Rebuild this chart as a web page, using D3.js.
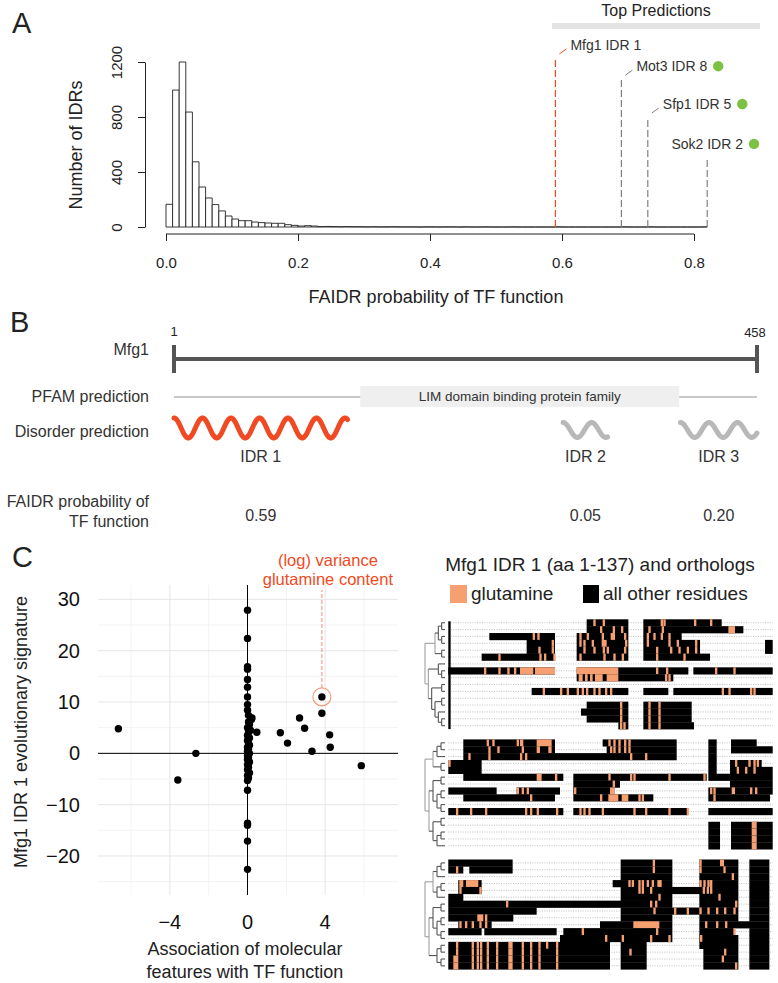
<!DOCTYPE html>
<html><head><meta charset="utf-8">
<script src="https://cdn.jsdelivr.net/npm/d3@7"></script>
<style>
body{margin:0;background:#fff}
svg{display:block}
text{font-family:"Liberation Sans",Arial,Helvetica,sans-serif}
</style>
</head><body>
<svg id="c" width="778" height="983" fill="#222"></svg>
<script>
var histCounts = [
  165, 996, 1200, 836, 474, 291, 211, 163, 117, 80,
  58, 46, 46, 36, 32, 29, 27, 27, 17, 12,
  7, 10, 7, 3, 4, 3, 2, 3, 2, 2,
  1, 2, 1, 1, 2, 1, 1, 1, 0, 1,
  1, 0, 1, 1, 0, 1, 0, 0, 1, 0,
  0, 0, 1, 0, 0, 0, 0, 0, 0, 1,
  0, 0, 0, 0, 0, 0, 0, 0, 0, 1,
  0, 0, 0, 1, 0, 0, 0, 0, 0, 0,
  0, 1];
var histBinWidth = 0.01;
var histXTicks = [0, 0.2, 0.4, 0.6, 0.8];
var histYTicks = [0, 400, 800, 1200];
var topNames = ["Mfg1 IDR 1", "Mot3 IDR 8", "Sfp1 IDR 5", "Sok2 IDR 2"];
var topProbs = [0.59, 0.69, 0.73, 0.82];
var topLineCounts = [1230, 1075, 800, 510];
var topKnownTF = [false, true, true, true];
var topRange = [0.585, 0.9];
var proteinLength = 458;
var pfamName = "LIM domain binding protein family";
var pfamRange = [147, 397];
var idrNames = ["IDR 1", "IDR 2", "IDR 3"];
var idrStart = [1, 306, 398];
var idrEnd = [137, 341, 458];
var idrProb = [0.59, 0.05, 0.20];
</script>
<script>
var assocX = [0,0,0,0,0,0,0,0,0,0.05,
  0.2,0.05,0.1,0,0.15,0.05,0,0.1,0,0.05,
  0.1,0,0.05,0,0.1,0,0.05,0,0.1,0,
  0.05,0,0.1,0,0.05,0,
  0,0,0,0,0,
  -6.65,-2.66,-3.59,0.23,0.48,1.69,2.06,2.68,2.94,3.32,3.83,3.83,4.23,4.26,5.86];
var evoY = [27.9,22.4,16.9,16.4,14.4,12.9,11.0,9.5,8.4,7.4,
  6.6,6.1,5.6,5.0,4.5,4.0,3.5,3.0,2.5,2.0,
  1.6,1.2,0.8,0.4,0.0,-0.4,-0.8,-1.2,-1.7,-2.2,
  -2.7,-3.2,-3.8,-4.3,-4.8,-5.3,
  -7.2,-13.6,-14.0,-17.1,-22.6,
  4.8,0.0,-5.2,6.9,4.1,4.0,2.0,6.9,4.9,0.4,11.0,7.8,3.6,1.2,-2.4];
var scatterXTicks = [-4, 0, 4];
var scatterYTicks = [-20, -10, 0, 10, 20, 30];
var highlightFeature = ["(log) variance", "glutamine content"];
var highlightPoint = [3.83, 11.0];
</script>
<script>
// alignment rows: residue blocks ("start-end") and glutamine columns (single or "start-end")
var alignBlocks1 = [
  "500-625 670-905",
  "500-625 670-970",
  "208-405 470-625 670-785",
  "320-405 470-625 670-840 1035-1058",
  "320-405 470-625 670-840 1035-1058",
  "185-405 470-625 670-870",
  "",
  "85-405 470-805 820-1058",
  "470-760",
  "",
  "335-625 670-745 760-1058",
  "",
  "500-625 670-815",
  "483-625 670-815",
  "500-625 670-815",
  "595-625 670-822"
];
var alignGln1 = [
  "520 548 722 730 822 870",
  "540 578 603 685 725 925-945",
  "338 352 478 500 545 572-585 612 680 700 722 745",
  "395 478 490 515 545-560 615 680 745 770 825",
  "355 395 490 520 548 560 612 708 750 775 800 825",
  "235 358 372 400 478 550 580 605 708 790",
  "",
  "192 235 262 282 300-340 345-405 470-595 708 738 885 940",
  "476-488 495-503 510-518 525-548 560-595 735 745",
  "",
  "368 420 440 470 485 498 520 535 555 570 905 925 990 1000",
  "",
  "600 685 715",
  "600 685 715",
  "600 685 715",
  "600 610 685 715"
];
var alignBlocks2 = [
  "130-405 548-770 865-890 933-1010",
  "130-405 560-770 865-890 933-1058",
  "130-770 865-890",
  "85-185 865-890 930-1025",
  "85-185 865-890 930-1058",
  "130-430 460-860 865-1058",
  "460-600 930-1058",
  "85-230 290-420 460-585 865-1058",
  "130-405 460-700 865-1050",
  "",
  "85-430 460-805 865-1058",
  "",
  "865-900 933-1058",
  "865-900 933-1058",
  "865-900 933-1058",
  "865-900 933-1058"
];
var alignGln2 = [
  "200 217 290 300-310 350-395 565 580 595 612 625",
  "205 232 305 350-360 385-395 570 580 595 612 625",
  "145 205 300 315 630 675",
  "85 945 985 1000 1010",
  "950 975 1000",
  "350-365 405 565 630 640 745 850",
  "578",
  "290 305 320 462 570-585 870 880 935-945 990 1005",
  "330 540 565-595 605-625 655 665 880",
  "",
  "108 150 195 315 330 350 408 478 490 505 545 640 675 745 800",
  "",
  "995-1010",
  "995-1010",
  "995-1010",
  "995-1010"
];
var alignBlocks3 = [
  "85-278 602-757 838-955 988-1048",
  "85-130 148-278 602-757 838-955 988-1048",
  "602-757 838-955 988-1048",
  "115-185 578-757 838-955 988-1048",
  "115-185 602-955 988-1048",
  "85-130 602-757 838-955 988-1048",
  "85-757 838-955 988-1048",
  "85-350 602-955 988-1048",
  "85-280 602-757 838-955 988-1048",
  "115-215 540-757 838-1048",
  "85-185 193-410 430-757 838-945 988-1048",
  "420-757 838-955 988-1048",
  "85-570 602-680 838-955 988-1048",
  "85-570 602-680 850-955 988-1048",
  "85-570 602-680 850-955 988-1048",
  "85-570 602-680 850-955 988-1048"
];
var alignGln3 = [
  "698 838 900-912",
  "108 698 838 910",
  "935",
  "118-130 138-175 625 635 655 665 680 695 712-725 838 850 862 870",
  "118 178 655 665 690 848 860 870",
  "715 895",
  "258 690 705 945",
  "700 762 800 838 862 888 912 940",
  "172-190 195",
  "118 135 155 178 195 640-718 855 888 915",
  "485 708 940",
  "555 605 690 745 840",
  "108-115 155 170 180 200 228 265-278 305 330 355 378 408",
  "108-115 155 170 180 200 228 265-278 305 330 355 408 628 912",
  "100-115 155 170 180 200 228 265-278 305 330 355 408 905",
  "100-115 155 170 180 200 228 265-278 305 330 355 408 945"
];
var alignTree1 = "((((0,1),(2,3)),(4,5)),((6,(7,8)),((9,10),((11,12),(13,(14,15))))))";
var alignTree2 = "((((0,1),2),(3,4)),(((5,6),((7,8),(9,10))),((11,12),((13,14),15))))";
var alignTree3 = "((((0,1),2),((3,4),5)),(((6,7),((8,9),(10,11))),((12,13),(14,15))))";
var alignTitle = "Mfg1 IDR 1 (aa 1-137) and orthologs";
var legendLabels = ["glutamine", "all other residues"];
</script>
<script>
var svg = d3.select("#c");
var RED = "#f04a24", GREEN = "#7cc242", ORANGE = "#f6a072";
svg.append("text").attr("x", 12).attr("y", 33).attr("font-size", 29).text("A");
svg.append("text").attr("x", 10).attr("y", 332).attr("font-size", 29).text("B");
svg.append("text").attr("x", 12).attr("y", 567).attr("font-size", 29).text("C");
</script>
<script>
var xA = d3.scaleLinear().domain([0, 0.8]).range([166, 694]);
var yA = d3.scaleLinear().domain([0, 1200]).range([227, 62]);
var gA = svg.append("g");
gA.selectAll("path.bar").data(histCounts).join("path")
  .attr("d", function(d, i) {
    var x0 = xA(i * histBinWidth), x1 = xA((i + 1) * histBinWidth);
    return "M" + x0 + "," + yA(0) + "V" + yA(d) + "H" + x1 + "V" + yA(0) + "Z";
  })
  .attr("fill", "#fff").attr("stroke", "#222").attr("stroke-width", 0.9);
var axXA = gA.append("g").attr("transform", "translate(0,234)")
  .call(d3.axisBottom(xA).tickValues(histXTicks).tickFormat(d3.format(".1f")).tickSize(7).tickSizeOuter(0).tickPadding(16));
axXA.selectAll("text").attr("font-size", 15).attr("fill", "#222");
axXA.selectAll("path,line").attr("stroke", "#222");
axXA.select(".domain").attr("d", "M" + xA(0) + ",0H" + xA(0.8));
var axYA = gA.append("g").attr("transform", "translate(145,0)")
  .call(d3.axisLeft(yA).tickValues(histYTicks).tickFormat(d3.format("d")).tickSize(7).tickSizeOuter(0));
axYA.selectAll("path,line").attr("stroke", "#222");
axYA.selectAll("text").attr("font-size", 15).attr("fill", "#222")
  .attr("x", 0).attr("y", 0).attr("dy", "0.35em").attr("text-anchor", "middle")
  .attr("transform", "translate(-28,0) rotate(-90)");
gA.append("text").attr("transform", "translate(76,145) rotate(-90)").attr("dy", "0.35em")
  .attr("text-anchor", "middle").attr("font-size", 18).text("Number of IDRs");
gA.append("text").attr("x", 436).attr("y", 303).attr("text-anchor", "middle")
  .attr("font-size", 18).text("FAIDR probability of TF function");
gA.append("rect").attr("x", xA(topRange[0])).attr("width", xA(topRange[1]) - xA(topRange[0]))
  .attr("y", 23).attr("height", 6).attr("fill", "#e3e3e3");
gA.append("text").attr("x", (xA(topRange[0]) + xA(topRange[1])) / 2).attr("y", 16)
  .attr("text-anchor", "middle").attr("font-size", 16).text("Top Predictions");
topNames.forEach(function(name, i) {
  var x = xA(topProbs[i]), ytop = yA(topLineCounts[i]);
  var col = topKnownTF[i] ? "#808080" : RED;
  gA.append("line").attr("x1", x).attr("x2", x).attr("y1", yA(0)).attr("y2", ytop)
    .attr("stroke", col).attr("stroke-width", 1.2).attr("stroke-dasharray", "7,3");
  var last = (i === topNames.length - 1);
  var tx = x + 15;
  if (!last) {
    gA.append("line").attr("x1", x + 4).attr("y1", ytop - 4).attr("x2", x + 11).attr("y2", ytop - 9)
      .attr("stroke", col).attr("stroke-width", 1);
  }
  var t = gA.append("text").attr("y", ytop - 13).attr("dy", "0.35em").attr("font-size", 14)
    .attr("fill", "#333").text(name);
  var w = t.node().getComputedTextLength();
  if (last) tx = x - w / 2;
  t.attr("x", tx);
  if (topKnownTF[i]) {
    gA.append("circle").attr("cx", tx + w + 11).attr("cy", ytop - 13).attr("r", 5.2).attr("fill", GREEN);
  }
});
</script>
<script>
var xB = d3.scaleLinear().domain([1, proteinLength]).range([174, 757]);
var gB = svg.append("g");
function labelB(t, y) {
  gB.append("text").attr("x", 149).attr("y", y).attr("text-anchor", "end")
    .attr("font-size", 16).attr("fill", "#333").text(t);
}
labelB("Mfg1", 355);
labelB("PFAM prediction", 401.5);
labelB("Disorder prediction", 436.5);
labelB("FAIDR probability of", 507);
labelB("TF function", 526.5);
gB.append("text").attr("x", xB(1)).attr("y", 336).attr("text-anchor", "middle").attr("font-size", 13).text("1");
gB.append("text").attr("x", xB(proteinLength) - 2).attr("y", 337).attr("text-anchor", "middle").attr("font-size", 13).text(String(proteinLength));
gB.append("line").attr("x1", xB(1)).attr("x2", xB(proteinLength)).attr("y1", 359).attr("y2", 359)
  .attr("stroke", "#555").attr("stroke-width", 4);
gB.append("rect").attr("x", xB(1) - 2).attr("width", 4).attr("y", 345).attr("height", 28).attr("fill", "#555");
gB.append("rect").attr("x", xB(proteinLength) - 2).attr("width", 4).attr("y", 345).attr("height", 28).attr("fill", "#555");
gB.append("line").attr("x1", xB(1)).attr("x2", xB(proteinLength)).attr("y1", 397).attr("y2", 397)
  .attr("stroke", "#777").attr("stroke-width", 0.8);
gB.append("rect").attr("x", xB(pfamRange[0])).attr("width", xB(pfamRange[1]) - xB(pfamRange[0]))
  .attr("y", 386).attr("height", 21).attr("fill", "#efefef");
gB.append("text").attr("x", (xB(pfamRange[0]) + xB(pfamRange[1])) / 2).attr("y", 401)
  .attr("text-anchor", "middle").attr("font-size", 13.5).attr("fill", "#333").text(pfamName);
var PERIOD = 28.5;
idrNames.forEach(function(nm, i) {
  var x0 = xB(idrStart[i]), x1 = xB(idrEnd[i]);
  var first = (i === 0);
  var amp = first ? 10 : 7.5, cy = first ? 428 : 430;
  var pts = d3.range(x0, x1 + 0.01, 0.5).map(function(x) {
    return [x, cy - amp * Math.cos(2 * Math.PI * (x - x0) / PERIOD)];
  });
  gB.append("path").attr("d", d3.line()(pts)).attr("fill", "none")
    .attr("stroke", first ? RED : "#b8b8b8").attr("stroke-width", 5).attr("stroke-linecap", "round");
  var cx = (x0 + x1) / 2;
  gB.append("text").attr("x", cx).attr("y", 461.5).attr("text-anchor", "middle").attr("font-size", 16).attr("fill", "#333").text(nm);
  gB.append("text").attr("x", cx).attr("y", 520.5).attr("text-anchor", "middle").attr("font-size", 16).attr("fill", "#333")
    .text(d3.format(".2f")(idrProb[i]));
});
</script>
<script>
var xC = d3.scaleLinear().domain([-7.7, 7.75]).range([98, 398]);
var yC = d3.scaleLinear().domain([-27.6, 32.8]).range([895, 585]);
var gC = svg.append("g");
function vline(v, col) {
  gC.append("line").attr("x1", xC(v)).attr("x2", xC(v)).attr("y1", yC.range()[0]).attr("y2", yC.range()[1]).attr("stroke", col);
}
function hline(v, col) {
  gC.append("line").attr("y1", yC(v)).attr("y2", yC(v)).attr("x1", xC.range()[0]).attr("x2", xC.range()[1]).attr("stroke", col);
}
[-6, -2, 2, 6].forEach(function(v) { vline(v, "#f3f3f3"); });
[-25, -15, -5, 5, 15, 25].forEach(function(v) { hline(v, "#f3f3f3"); });
scatterXTicks.forEach(function(v) { vline(v, "#e6e6e6"); });
scatterYTicks.forEach(function(v) { hline(v, "#e6e6e6"); });
vline(0, "#000");
hline(0, "#000");
var fmt = d3.format("d");
scatterXTicks.forEach(function(v) {
  gC.append("text").attr("x", xC(v)).attr("y", 922).attr("dy", "0.35em")
    .attr("text-anchor", "middle").attr("font-size", 20).attr("fill", "#111").text(fmt(v));
});
scatterYTicks.forEach(function(v) {
  gC.append("text").attr("x", 80).attr("y", yC(v)).attr("dy", "0.35em")
    .attr("text-anchor", "end").attr("font-size", 20).attr("fill", "#111").text(fmt(v));
});
gC.selectAll("circle.pt").data(assocX).join("circle")
  .attr("cx", function(d) { return xC(d); })
  .attr("cy", function(d, i) { return yC(evoY[i]); })
  .attr("r", 3.7).attr("fill", "#000");
var hx = xC(highlightPoint[0]), hy = yC(highlightPoint[1]);
gC.append("circle").attr("cx", hx).attr("cy", hy).attr("r", 9).attr("fill", "none")
  .attr("stroke", "#f39a7c").attr("stroke-width", 1.1);
gC.append("line").attr("x1", hx).attr("x2", hx).attr("y1", hy - 9).attr("y2", 590)
  .attr("stroke", "#f39a7c").attr("stroke-width", 1.1).attr("stroke-dasharray", "4,2");
gC.append("text").attr("x", hx + 6).attr("y", 566).attr("text-anchor", "middle").attr("font-size", 16.5).attr("fill", RED).text(highlightFeature[0]);
gC.append("text").attr("x", hx + 6).attr("y", 585).attr("text-anchor", "middle").attr("font-size", 16.5).attr("fill", RED).text(highlightFeature[1]);
gC.append("text").attr("transform", "translate(21,732) rotate(-90)").attr("dy", "0.35em")
  .attr("text-anchor", "middle").attr("font-size", 18).text("Mfg1 IDR 1 evolutionary signature");
gC.append("text").attr("x", 245).attr("y", 955).attr("text-anchor", "middle").attr("font-size", 18).text("Association of molecular");
gC.append("text").attr("x", 245).attr("y", 978).attr("text-anchor", "middle").attr("font-size", 18).text("features with TF function");
</script>
<script>
var gD = svg.append("g");
gD.append("text").attr("x", 600).attr("y", 571).attr("text-anchor", "middle").attr("font-size", 19).text(alignTitle);
gD.append("rect").attr("x", 450).attr("y", 585).attr("width", 17).attr("height", 18).attr("fill", ORANGE);
gD.append("text").attr("x", 471).attr("y", 600).attr("font-size", 19).text(legendLabels[0]);
gD.append("rect").attr("x", 583).attr("y", 585).attr("width", 16).attr("height", 18).attr("fill", "#000");
gD.append("text").attr("x", 603).attr("y", 600).attr("font-size", 19).text(legendLabels[1]);
var xD = d3.scaleLinear().domain([85, 1058]).range([448.3, 772.7]);
var groupsB = [alignBlocks1, alignBlocks2, alignBlocks3];
var groupsQ = [alignGln1, alignGln2, alignGln3];
var groupsT = [alignTree1, alignTree2, alignTree3];
var gBand = d3.scaleBand().domain([0, 1, 2]).range([619.3, 969.3]).paddingInner(0.0857);
var qW = 7;
function parseSegs(str, single) {
  return str.split(" ").filter(function(s) { return s.length > 0; }).map(function(tok) {
    if (tok.indexOf("-") > 0) {
      var p = tok.split("-");
      return { s: +p[0], e: +p[1] };
    }
    return { s: +tok, e: +tok + single };
  });
}
function parseTree(str) {
  var pos = 0;
  function node() {
    if (str.charAt(pos) === "(") {
      pos++;
      var ch = [node()];
      while (str.charAt(pos) === ",") { pos++; ch.push(node()); }
      pos++;
      return ch;
    }
    var m = /^\d+/.exec(str.slice(pos));
    pos += m[0].length;
    return +m[0];
  }
  return node();
}
function drawGroup(gi) {
  var blocks = groupsB[gi], glns = groupsQ[gi];
  var rowY = d3.scaleBand().domain(d3.range(blocks.length)).range([gBand(gi), gBand(gi) + gBand.bandwidth()]);
  var g = gD.append("g");
  var h = rowY.bandwidth();
  for (var ri = 0; ri < blocks.length; ri++) {
    var y0 = rowY(ri), yc = y0 + h / 2;
    g.append("line").attr("x1", xD(85)).attr("x2", xD(1058)).attr("y1", yc).attr("y2", yc)
      .attr("stroke", "#a0a0a0").attr("stroke-width", 0.7).attr("stroke-dasharray", "1,1.4");
    parseSegs(blocks[ri], 0).forEach(function(seg) {
      g.append("rect").attr("x", xD(seg.s)).attr("width", xD(seg.e) - xD(seg.s))
        .attr("y", y0).attr("height", h + 0.3).attr("fill", "#000");
    });
    parseSegs(glns[ri], qW).forEach(function(seg) {
      g.append("rect").attr("x", xD(seg.s)).attr("width", xD(seg.e) - xD(seg.s))
        .attr("y", y0).attr("height", h + 0.3).attr("fill", ORANGE);
    });
  }
  if (gi === 0) {
    g.append("rect").attr("x", xD(85)).attr("width", xD(92) - xD(85))
      .attr("y", rowY(0) + 2).attr("height", h * blocks.length - 2).attr("fill", "#000");
  }
  var root = d3.hierarchy(parseTree(groupsT[gi]), function(d) { return Array.isArray(d) ? d : null; });
  var maxH = root.height;
  var xLeaf = 445, xRoot = 425;
  root.eachAfter(function(n) {
    n.px = xLeaf - (n.height / maxH) * (xLeaf - xRoot);
    if (!n.children) n.py = rowY(n.data) + h / 2;
    else n.py = (n.children[0].py + n.children[n.children.length - 1].py) / 2;
  });
  root.each(function(n) {
    if (!n.children) return;
    var col = n.depth <= 1 ? "#a0a0a0" : "#555";
    var ys = n.children.map(function(c) { return c.py; });
    g.append("line").attr("x1", n.px).attr("x2", n.px).attr("y1", d3.min(ys)).attr("y2", d3.max(ys))
      .attr("stroke", col).attr("stroke-width", 1.1);
    n.children.forEach(function(c) {
      g.append("line").attr("x1", n.px).attr("x2", c.px).attr("y1", c.py).attr("y2", c.py)
        .attr("stroke", (c.children && c.depth <= 1) ? "#a0a0a0" : "#555").attr("stroke-width", 1.1);
    });
  });
}
drawGroup(0);
drawGroup(1);
drawGroup(2);
</script>
</body></html>
